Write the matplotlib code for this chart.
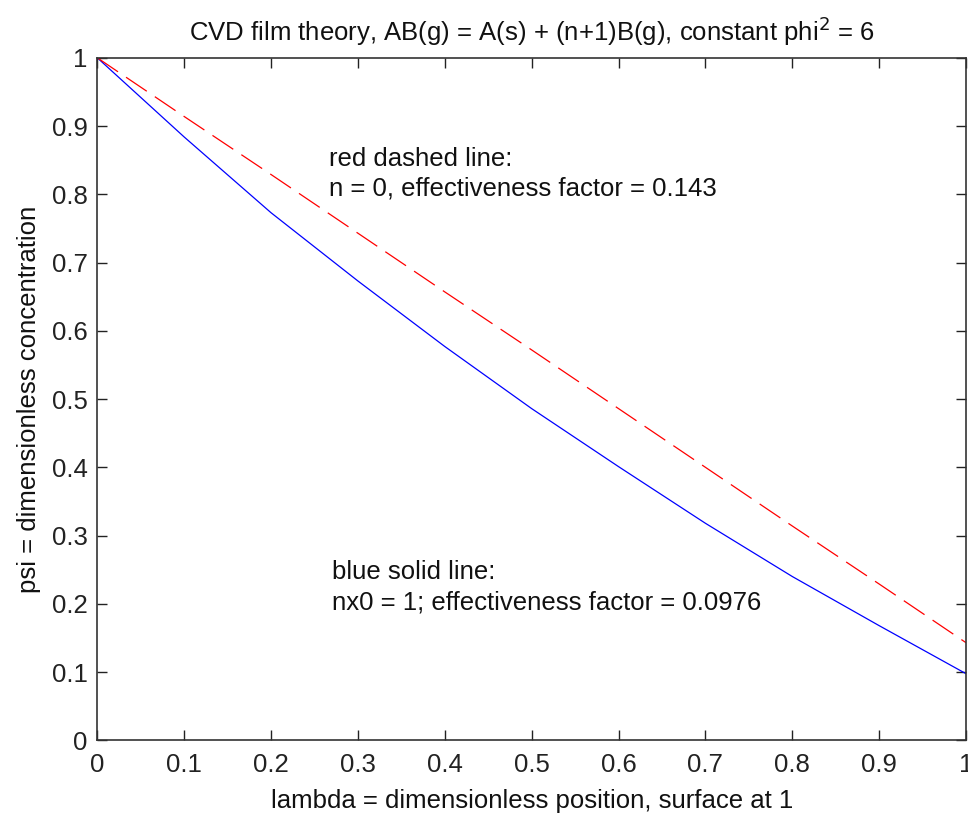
import matplotlib
matplotlib.use("Agg")
import matplotlib.pyplot as plt

plt.rcParams['font.family'] = ['Liberation Sans', 'DejaVu Sans']
plt.rcParams['lines.scale_dashes'] = False

# positions (lambda)
lam = [0.0, 0.1, 0.2, 0.3, 0.4, 0.5, 0.6, 0.7, 0.8, 0.9, 1.0]
# red dashed: n = 0
psi_n0 = [1.0, 0.914, 0.829, 0.743, 0.657, 0.572, 0.486, 0.400, 0.314, 0.229, 0.143]
# blue solid: nx0 = 1
psi_n1 = [1.0, 0.884, 0.773, 0.673, 0.577, 0.486, 0.401, 0.318, 0.240, 0.168, 0.0976]

xticks = [0, 0.1, 0.2, 0.3, 0.4, 0.5, 0.6, 0.7, 0.8, 0.9, 1]
xticklabels = ['0', '0.1', '0.2', '0.3', '0.4', '0.5', '0.6', '0.7', '0.8', '0.9', '1']
yticks = xticks
yticklabels = xticklabels

title = 'CVD film theory, AB(g) = A(s) + (n+1)B(g), constant phi$^2$ = 6'
xlabel = 'lambda = dimensionless position, surface at 1'
ylabel = 'psi = dimensionless concentration'
note_red = 'red dashed line:\nn = 0, effectiveness factor = 0.143'
note_blue = 'blue solid line:\nnx0 = 1; effectiveness factor = 0.0976'

FS = 18.5

fig = plt.figure(figsize=(9.68, 8.14), dpi=100)
ax = fig.add_axes([0.1005, 0.0905, 0.8975, 0.8385])

ax.plot(lam, psi_n1, color='#0000ff', lw=0.9, solid_joinstyle='round')
line, = ax.plot(lam, psi_n0, color='#ff0000', lw=0.9)
line.set_dashes([18, 7])

ax.set_xlim(0, 1)
ax.set_ylim(0, 1)
ax.set_xticks(xticks)
ax.set_xticklabels(xticklabels)
ax.set_yticks(yticks)
ax.set_yticklabels(yticklabels)
ax.tick_params(direction='in', top=True, right=True, length=7, width=1,
               labelsize=FS, colors='#222222')
ax.tick_params(axis='x', pad=9)
ax.tick_params(axis='y', pad=7)
for s in ax.spines.values():
    s.set_linewidth(1.2)
    s.set_color('#333333')

ax.set_title(title, fontsize=FS, pad=12, color='#111111')
ax.set_xlabel(xlabel, fontsize=FS, labelpad=9, color='#111111')
ax.set_ylabel(ylabel, fontsize=FS, labelpad=8, color='#111111')

ax.text(0.267, 0.830, note_red, fontsize=FS, ha='left', va='center',
        linespacing=1.32, color='#111111')
ax.text(0.270, 0.224, note_blue, fontsize=FS, ha='left', va='center',
        linespacing=1.32, color='#111111')

fig.savefig('out.png', dpi=100, facecolor='white')
